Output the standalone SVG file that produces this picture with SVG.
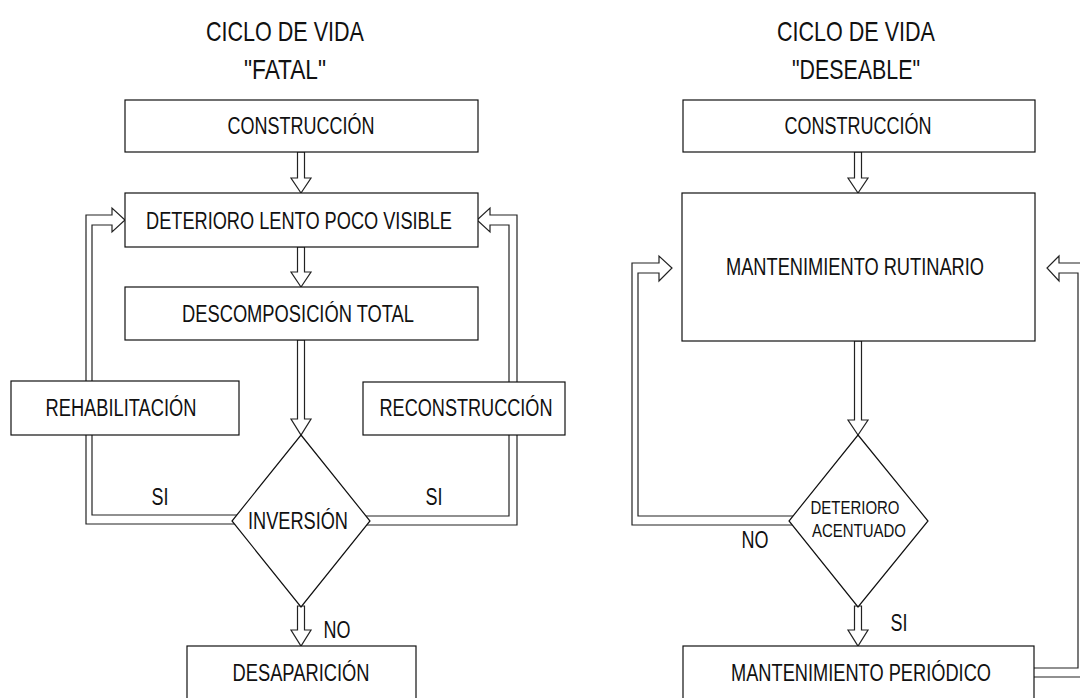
<svg xmlns="http://www.w3.org/2000/svg" width="1080" height="698" viewBox="0 0 1080 698">
<style>
.bg{fill:#fff}
.box{fill:#fff;stroke:#111;stroke-width:1.2}
.con{fill:#fff;stroke:#222;stroke-width:1.2;stroke-linejoin:miter}
text{font-family:"Liberation Sans Narrow","Arial Narrow","Liberation Sans",sans-serif;fill:#111;text-anchor:middle}
.t{font-size:23.5px}
.h{font-size:28px}
.s{font-size:19px}
</style>
<rect class="bg" x="0" y="0" width="1080" height="698"/>
<g id="titles">
<text class="h" x="285" y="41" textLength="158" lengthAdjust="spacingAndGlyphs">CICLO DE VIDA</text>
<text class="h" x="285" y="79" textLength="82" lengthAdjust="spacingAndGlyphs">"FATAL"</text>
<text class="h" x="856" y="41" textLength="158" lengthAdjust="spacingAndGlyphs">CICLO DE VIDA</text>
<text class="h" x="856" y="79" textLength="128" lengthAdjust="spacingAndGlyphs">"DESEABLE"</text>
</g>
<g id="connectors">
<polygon class="con" points="240,515 92,515 92,225 112,225 112,232 125,220 112,208 112,215 86,215 86,524 240,524"/>
<polygon class="con" points="362,516 509,516 509,225 490,225 490,232 477,220 490,208 490,215 517,215 517,525 362,525"/>
<polygon class="con" points="797,516 638,516 638,273 659,273 659,281 672,268 659,256 659,263 632,263 632,525 797,525"/>
<polygon class="con" points="1030,668 1078,668 1078,273 1059,273 1059,281 1047,268 1059,256 1059,263 1087,263 1087,677 1030,677"/>
<polygon class="con" points="297.5,152 304.5,152 304.5,178 311,178 301,193 291,178 297.5,178"/>
<polygon class="con" points="297.5,247 304.5,247 304.5,272 311,272 301,287 291,272 297.5,272"/>
<polygon class="con" points="297.5,340 304.5,340 304.5,419 311,419 301,435 291,419 297.5,419"/>
<polygon class="con" points="297.5,606 304.5,606 304.5,630 311,630 301,646 291,630 297.5,630"/>
<polygon class="con" points="854.5,152 861.5,152 861.5,178 868,178 858,193 848,178 854.5,178"/>
<polygon class="con" points="854.5,341 861.5,341 861.5,420 868,420 858,435 848,420 854.5,420"/>
<polygon class="con" points="854.5,606 861.5,606 861.5,630 868,630 858,646 848,630 854.5,630"/>
</g>
<g id="n-construccion-1"><rect class="box" x="125" y="100" width="353" height="52"/><text class="t" x="301" y="134" textLength="147" lengthAdjust="spacingAndGlyphs">CONSTRUCCIÓN</text></g>
<g id="n-deterioro-lento"><rect class="box" x="125" y="193" width="353" height="54"/><text class="t" x="299" y="229" textLength="306" lengthAdjust="spacingAndGlyphs">DETERIORO LENTO POCO VISIBLE</text></g>
<g id="n-descomposicion"><rect class="box" x="125" y="287" width="353" height="53"/><text class="t" x="298" y="322" textLength="232" lengthAdjust="spacingAndGlyphs">DESCOMPOSICIÓN TOTAL</text></g>
<g id="n-rehabilitacion"><rect class="box" x="11" y="381" width="228" height="54"/><text class="t" x="121" y="416" textLength="151" lengthAdjust="spacingAndGlyphs">REHABILITACIÓN</text></g>
<g id="n-reconstruccion"><rect class="box" x="363" y="382" width="202" height="53"/><text class="t" x="466" y="416" textLength="173" lengthAdjust="spacingAndGlyphs">RECONSTRUCCIÓN</text></g>
<g id="n-inversion"><polygon class="box" points="301,435 370,521 301,607 232,521"/><text class="t" x="298" y="529" textLength="100" lengthAdjust="spacingAndGlyphs">INVERSIÓN</text></g>
<g id="n-desaparicion"><rect class="box" x="187" y="646" width="229" height="60"/><text class="t" x="301" y="681" textLength="137" lengthAdjust="spacingAndGlyphs">DESAPARICIÓN</text></g>
<g id="labels-left">
<text class="t" x="160" y="505" textLength="17" lengthAdjust="spacingAndGlyphs">SI</text>
<text class="t" x="434" y="505" textLength="17" lengthAdjust="spacingAndGlyphs">SI</text>
<text class="t" x="337" y="638" textLength="27" lengthAdjust="spacingAndGlyphs">NO</text>
</g>
<g id="n-construccion-2"><rect class="box" x="683" y="100" width="352" height="52"/><text class="t" x="858" y="134" textLength="147" lengthAdjust="spacingAndGlyphs">CONSTRUCCIÓN</text></g>
<g id="n-mant-rutinario"><rect class="box" x="682" y="193" width="353" height="148"/><text class="t" x="855" y="275" textLength="258" lengthAdjust="spacingAndGlyphs">MANTENIMIENTO RUTINARIO</text></g>
<g id="n-deterioro-acentuado"><polygon class="box" points="858,435 928,521 858,607 789,521"/><text class="s" x="855" y="514" textLength="89" lengthAdjust="spacingAndGlyphs">DETERIORO</text><text class="s" x="859" y="537" textLength="94" lengthAdjust="spacingAndGlyphs">ACENTUADO</text></g>
<g id="n-mant-periodico"><rect class="box" x="683" y="646" width="351" height="60"/><text class="t" x="861" y="681" textLength="260" lengthAdjust="spacingAndGlyphs">MANTENIMIENTO PERIÓDICO</text></g>
<g id="labels-right">
<text class="t" x="755" y="548" textLength="27" lengthAdjust="spacingAndGlyphs">NO</text>
<text class="t" x="899" y="631" textLength="17" lengthAdjust="spacingAndGlyphs">SI</text>
</g>
</svg>
